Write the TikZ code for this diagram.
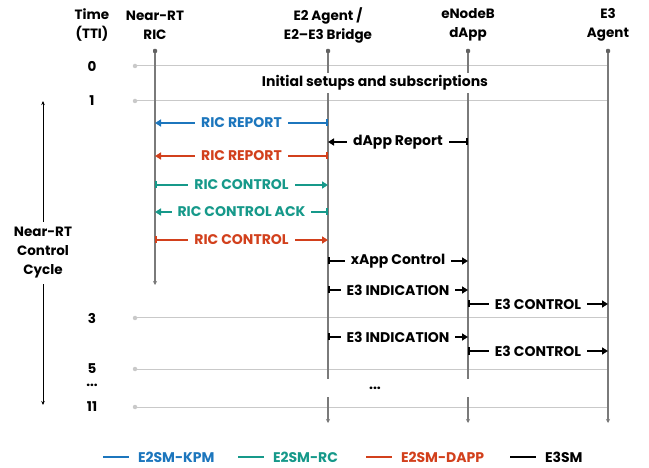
\documentclass[tikz,border=0pt]{standalone}
\usepackage{fontspec}
\setmainfont{Poppins}
\usepackage{tikz}
\usetikzlibrary{arrows.meta,calc}
\definecolor{kpmblue}{HTML}{1C76BD}
\definecolor{rcteal}{HTML}{16998A}
\definecolor{dappred}{HTML}{D2401C}
\definecolor{lifegray}{HTML}{7A7A7A}
\definecolor{ttigray}{HTML}{C9C9C9}
\tikzset{
  lifeline/.style={draw=lifegray, line width=1.3pt, -{Stealth[length=4pt,width=4pt]}},
  lifetop/.style={fill=lifegray!80!black, inner sep=0pt, minimum size=4pt, rounded corners=0.8pt},
  ttiline/.style={draw=ttigray, line width=1pt},
  ttidot/.style={circle, fill=ttigray, inner sep=0pt, minimum size=4.5pt},
  msg/.style={line width=1.6pt, {Bar[width=7pt,line width=1.6pt]}-{Triangle[length=6pt,width=7pt]}},
  lbl/.style={fill=white, inner xsep=6pt, inner ysep=1pt, font=\bfseries\fontsize{14}{16}\selectfont},
  head/.style={align=center, font=\bfseries\fontsize{13.5}{19}\selectfont},
  tti/.style={font=\bfseries\fontsize{13.5}{16}\selectfont}
}
\begin{document}
\begin{tikzpicture}[x=1pt,y=-1pt]
      \useasboundingbox (0,0) rectangle (649,468);

      % column headers
      \node[head] (htime) at (92,25) {Time\\(TTI)};
      \node[head] (hric) at (155,25) {Near-RT\\RIC};
      \node[head] (he2) at (328,25) {E2 Agent /\\E2–E3 Bridge};
      \node[head] (hdapp) at (468,25) {eNodeB\\dApp};
      \node[head] (he3) at (608,25) {E3\\Agent};

      % lifelines
      \node[lifetop] (ric) at (155,51) {};
      \node[lifetop] (e2) at (328,51) {};
      \node[lifetop] (dapp) at (468,51) {};
      \node[lifetop] (e3) at (608,51) {};
      \coordinate (ricend) at (155,285);
      \coordinate (e2end) at (328,423);
      \coordinate (dappend) at (468,423);
      \coordinate (e3end) at (608,423);

      % TTI grid
      \foreach \t/\y in {0/66,1/101,3/318,5/369,11/407} {
        \node[tti] (t\t) at (92,\y) {\t};
        \node[ttidot] (d\t) at (135,\y) {};
        \draw[ttiline] (d\t) -- (e3 |- d\t);
      }
      \node[tti] (tdots) at (92,385) {...};

      \draw[lifeline] (ric) -- (ricend);
      \draw[lifeline] (e2) -- (e2end);
      \draw[lifeline] (dapp) -- (dappend);
      \draw[lifeline] (e3) -- (e3end);

      \node[lbl, inner ysep=3pt] (init) at (375,83) {Initial setups and subscriptions};
      \node[lbl, minimum width=200pt, minimum height=18pt] (gap) at (375,388) {...};

      % near-RT control cycle
      \coordinate (cyctop) at (43,101);
      \coordinate (cycbot) at (43,405);
      \draw[line width=0.8pt, {Stealth[length=4pt,width=3.5pt]}-{Stealth[length=4pt,width=3.5pt]}]
        (cyctop) -- (cycbot)
        node[midway, lbl, align=center, inner xsep=2pt, inner ysep=5pt,
             font=\bfseries\fontsize{13.5}{19}\selectfont] (cyc) {Near-RT\\Control\\Cycle};

      % messages
      \foreach \y/\from/\to/\col/\txt in {
        123/e2/ric/kpmblue/RIC REPORT,
        142/dapp/e2/black/dApp Report,
        156/e2/ric/dappred/RIC REPORT,
        185/ric/e2/rcteal/RIC CONTROL,
        212/e2/ric/rcteal/RIC CONTROL ACK,
        240/ric/e2/dappred/RIC CONTROL,
        261/e2/dapp/black/xApp Control,
        290/e2/dapp/black/E3 INDICATION,
        304/dapp/e3/black/E3 CONTROL,
        337/e2/dapp/black/E3 INDICATION,
        351/dapp/e3/black/E3 CONTROL} {
        \draw[msg, color=\col] (\from |- 0,\y) -- (\to |- 0,\y)
          node[midway, lbl] {\txt};
      }

      % legend
      \foreach \x/\col/\txt in {103/kpmblue/E2SM-KPM, 238/rcteal/E2SM-RC,
                                366/dappred/E2SM-DAPP, 510/black/E3SM} {
        \draw[line width=2pt, color=\col] (\x,457) -- (\x+26,457)
          node[right, inner xsep=8pt, font=\bfseries\fontsize{14}{16}\selectfont, text=\col] {\txt};
      }
    \end{tikzpicture}
\end{document}
